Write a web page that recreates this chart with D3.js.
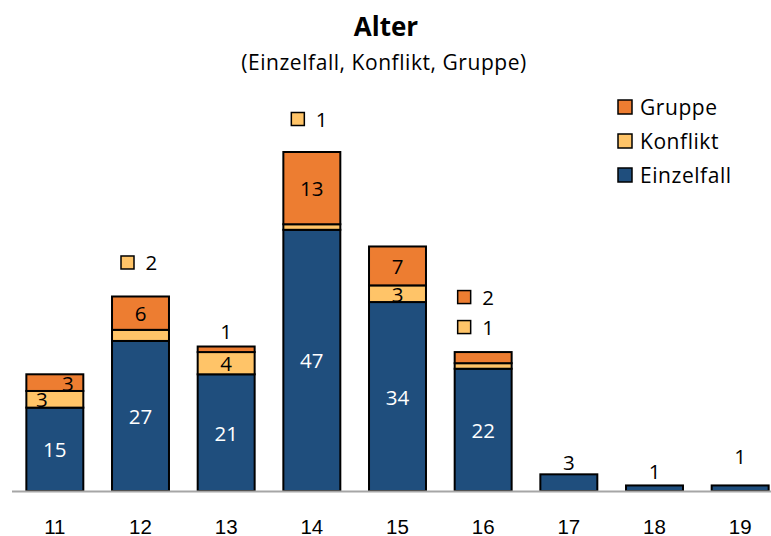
<!DOCTYPE html>
<html>
<head>
<meta charset="utf-8">
<script src="https://cdn.jsdelivr.net/npm/d3@7"></script>
<style>
  html, body { margin: 0; padding: 0; background: #fff; }
  svg { display: block; font-family: "Open Sans", "Noto Sans", sans-serif; }
</style>
</head>
<body>
<svg id="chart" width="771" height="536"></svg>
<script>
// Age groups and counts per case type
const ages = ["11", "12", "13", "14", "15", "16", "17", "18", "19"];
const einzelfall = [15, 27, 21, 47, 34, 22, 3, 1, 1];
const konflikt = [3, 2, 4, 1, 3, 1, 0, 0, 0];
const gruppe = [3, 6, 1, 13, 7, 2, 0, 0, 0];
const seriesNames = ["Einzelfall", "Konflikt", "Gruppe"];

// Where each data label goes: inside the segment, above the bar, or as a callout
// with a marker ("callout:<lift>:<shift>")
const labelPlacement = {
  "11": { Einzelfall: "inside", Konflikt: "insideLeft", Gruppe: "insideRight" },
  "12": { Einzelfall: "inside", Konflikt: "callout:-34:1", Gruppe: "inside" },
  "13": { Einzelfall: "inside", Konflikt: "inside", Gruppe: "above:-16" },
  "14": { Einzelfall: "inside", Konflikt: "callout:-33:0", Gruppe: "inside" },
  "15": { Einzelfall: "inside", Konflikt: "inside", Gruppe: "inside" },
  "16": { Einzelfall: "inside", Konflikt: "callout:-25:-5", Gruppe: "callout:-55:-5" },
  "17": { Einzelfall: "above:-12" },
  "18": { Einzelfall: "above:-14" },
  "19": { Einzelfall: "above:-29" }
};

const colors = { Einzelfall: "#1F4E7D", Konflikt: "#FFC468", Gruppe: "#ED7D31" };
const labelColors = { Einzelfall: "#ffffff", Konflikt: "#000000", Gruppe: "#000000" };

const svg = d3.select("#chart");
const baseY = 491;

const rows = ages.map((a, i) => ({ age: a, Einzelfall: einzelfall[i], Konflikt: konflikt[i], Gruppe: gruppe[i] }));
const stacked = d3.stack().keys(seriesNames)(rows);

const x = d3.scaleBand().domain(ages).range([12, 783]).paddingInner(0.335).paddingOuter(0.1675);
const y = d3.scaleLinear().domain([0, 61]).range([baseY, 152]);

// Title
svg.append("text").attr("x", 386).attr("y", 36).attr("text-anchor", "middle")
  .attr("font-size", 26).attr("font-weight", "bold").attr("fill", "#000").text("Alter");
svg.append("text").attr("x", 384).attr("y", 70).attr("text-anchor", "middle")
  .attr("font-size", 21).attr("letter-spacing", 0.55).attr("fill", "#000").text("(Einzelfall, Konflikt, Gruppe)");

// Stacked bars
const layers = svg.append("g").selectAll("g").data(stacked).join("g")
  .attr("fill", d => colors[d.key]);
layers.selectAll("rect").data(d => d.filter(p => p[1] > p[0])).join("rect")
  .attr("x", d => x(d.data.age))
  .attr("width", x.bandwidth())
  .attr("y", d => y(d[1]))
  .attr("height", d => y(d[0]) - y(d[1]))
  .attr("stroke", "#000").attr("stroke-width", 2);

// Baseline axis
const xAxis = svg.append("g").attr("transform", `translate(0,${baseY})`)
  .call(d3.axisBottom(x).tickSize(0).tickPadding(0));
xAxis.select(".domain").attr("d", `M12,0.5H771`).attr("stroke", "#A6A6A6").attr("stroke-width", 2);
xAxis.selectAll(".tick text").attr("font-size", 20.5).attr("fill", "#000")
  .attr("font-family", null).attr("y", 35).attr("dy", null).attr("dominant-baseline", "central");

// Data labels
const labels = svg.append("g").attr("font-size", 20.5);
stacked.forEach(layer => {
  layer.forEach(seg => {
    const v = seg[1] - seg[0];
    if (v <= 0) return;
    const age = seg.data.age;
    const mode = (labelPlacement[age] || {})[layer.key] || "inside";
    const cx = x(age) + x.bandwidth() / 2;
    const top = y(d3.sum(seriesNames, k => seg.data[k]));
    const [kind, offStr, shiftStr] = mode.split(":");
    const off = +offStr || 0;
    const shift = +shiftStr || 0;
    if (kind.startsWith("inside")) {
      const dx = kind === "insideLeft" ? -13 : kind === "insideRight" ? 13 : 0;
      labels.append("text")
        .attr("x", cx + dx).attr("y", (y(seg[0]) + y(seg[1])) / 2)
        .attr("text-anchor", "middle").attr("dominant-baseline", "central")
        .attr("fill", labelColors[layer.key]).text(v);
    } else if (kind === "above") {
      labels.append("text")
        .attr("x", cx).attr("y", top + off)
        .attr("text-anchor", "middle").attr("dominant-baseline", "central")
        .attr("fill", "#000").text(v);
    } else if (kind === "callout") {
      const my = top + off;
      const mx = cx + shift;
      labels.append("rect")
        .attr("x", mx - 20.5).attr("y", my - 6.5).attr("width", 13).attr("height", 13)
        .attr("fill", colors[layer.key]).attr("stroke", "#000").attr("stroke-width", 1.5);
      labels.append("text")
        .attr("x", mx + 4).attr("y", my)
        .attr("dominant-baseline", "central").attr("fill", "#000").text(v);
    }
  });
});

// Legend (reverse stack order)
const legend = svg.append("g").attr("font-size", 21).attr("letter-spacing", 0.55);
seriesNames.slice().reverse().forEach((name, i) => {
  const ly = 107 + i * 34;
  legend.append("rect").attr("x", 618).attr("y", ly - 7).attr("width", 14).attr("height", 14)
    .attr("fill", colors[name]).attr("stroke", "#000").attr("stroke-width", 1.5);
  legend.append("text").attr("x", 640).attr("y", ly).attr("dominant-baseline", "central")
    .attr("fill", "#000").text(name);
});
</script>
</body>
</html>
